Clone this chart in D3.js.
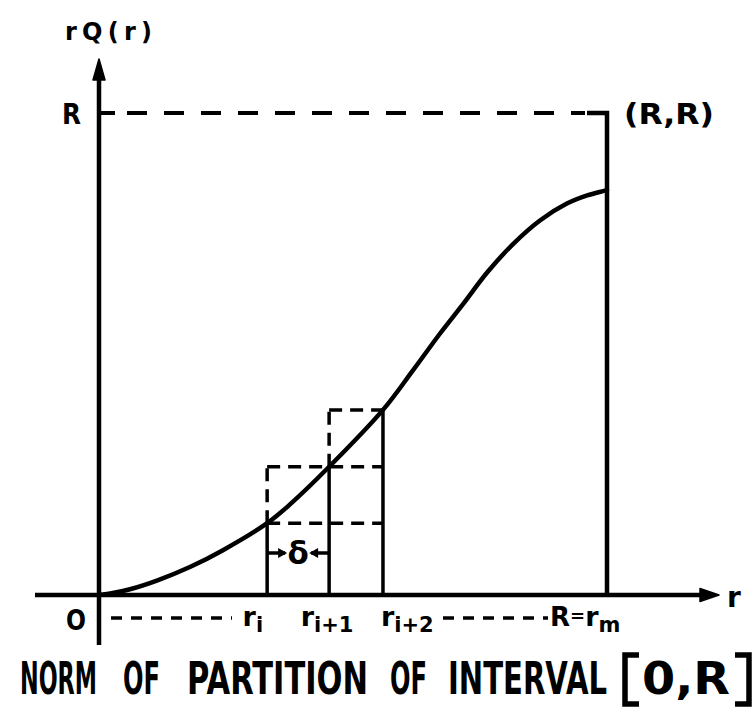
<!DOCTYPE html>
<html><head><meta charset="utf-8">
<script src="https://cdn.jsdelivr.net/npm/d3@7"></script>
<style>
  body { margin: 0; background: #fff; }
  text { font-family: "DejaVu Sans", sans-serif; font-weight: bold; fill: #000; }
</style>
</head><body>
<svg id="chart" width="753" height="714"></svg>
<script>
// Curve r·Q(r), both coordinates as fractions of R
const curveR = [0, 0.022, 0.061, 0.114, 0.179, 0.244, 0.331, 0.376, 0.453, 0.559, 0.618, 0.671, 0.717, 0.764, 0.815, 0.868, 0.921, 0.961, 1.0];
const curveQ = [0, 0.003, 0.012, 0.030, 0.058, 0.093, 0.149, 0.188, 0.266, 0.384, 0.466, 0.542, 0.604, 0.669, 0.728, 0.777, 0.812, 0.829, 0.840];

// Three consecutive partition points and the curve value at each
const partR = [0.331, 0.453, 0.559];
const partQ = [0.149, 0.266, 0.384];
const partLabels = [["r", "i"], ["r", "i+1"], ["r", "i+2"]];

// Axis and corner labels
const yAxisLabel = "rQ(r)";
const xAxisLabel = "r";
const topTick = "R";
const originLabel = "O";
const cornerLabel = "(R,R)";
const endLabel = ["R", "=", "r", "m"];
const deltaLabel = "δ";
const titleWords = ["NORM", "OF", "PARTITION", "OF", "INTERVAL"];
const intervalText = "0,R";

const svg = d3.select("#chart");
const x = d3.scaleLinear().domain([0, 1]).range([99, 607]);
const y = d3.scaleLinear().domain([0, 1]).range([595, 113]);

const g = svg.append("g");

// Bold lettering squeezed horizontally so it spans [x0, x1]
function fitted(parent, str, x0, x1, baseline, size) {
  const holder = parent.append("g");
  const t = holder.append("text").attr("font-size", size).text(str);
  const w = t.node().getComputedTextLength();
  holder.attr("transform", `translate(${x0},${baseline}) scale(${(x1 - x0) / w},1)`);
  return t;
}

// ---- axes ----
const axisW = 4.5;
g.append("line").attr("x1", 35).attr("x2", 705).attr("y1", y(0)).attr("y2", y(0))
  .attr("stroke", "#000").attr("stroke-width", axisW);
g.append("path")
  .attr("d", `M${719},${y(0)} L${700},${y(0) - 6.5} L${700},${y(0) + 6.5} Z`)
  .attr("fill", "#000").attr("stroke", "#000").attr("stroke-width", 1.5).attr("stroke-linejoin", "round");

g.append("line").attr("x1", x(0)).attr("x2", x(0)).attr("y1", 645).attr("y2", 76)
  .attr("stroke", "#000").attr("stroke-width", axisW);
g.append("path")
  .attr("d", `M${x(0)},${59} L${x(0) - 6},${80} L${x(0) + 6},${80} Z`)
  .attr("fill", "#000").attr("stroke", "#000").attr("stroke-width", 1.5).attr("stroke-linejoin", "round");

// ---- bounding square: dashed top at R, solid right side at r = R ----
g.append("line").attr("x1", x(0)).attr("x2", x(0) + 16).attr("y1", y(1)).attr("y2", y(1))
  .attr("stroke", "#000").attr("stroke-width", 4);
g.append("line").attr("x1", x(0) + 28).attr("x2", x(1) - 22).attr("y1", y(1)).attr("y2", y(1))
  .attr("stroke", "#000").attr("stroke-width", 4).attr("stroke-dasharray", "20,17");
g.append("path")
  .attr("d", `M${x(1) - 20},${y(1)} L${x(1)},${y(1)} L${x(1)},${y(0)}`)
  .attr("fill", "none").attr("stroke", "#000").attr("stroke-width", 4.5);

// ---- step rectangles around the partition points ----
const dash = "13,8";
const stepW = 3.5;
// solid ordinates from the axis up to the curve
partR.forEach((r, k) => {
  g.append("line").attr("x1", x(r)).attr("x2", x(r)).attr("y1", y(0)).attr("y2", y(partQ[k]))
    .attr("stroke", "#000").attr("stroke-width", stepW);
});
// dashed horizontals at each curve value
g.append("line").attr("x1", x(partR[0])).attr("x2", x(partR[2])).attr("y1", y(partQ[0])).attr("y2", y(partQ[0]))
  .attr("stroke", "#000").attr("stroke-width", stepW).attr("stroke-dasharray", dash);
g.append("line").attr("x1", x(partR[0])).attr("x2", x(partR[2])).attr("y1", y(partQ[1])).attr("y2", y(partQ[1]))
  .attr("stroke", "#000").attr("stroke-width", stepW).attr("stroke-dasharray", dash);
g.append("line").attr("x1", x(partR[1])).attr("x2", x(partR[2])).attr("y1", y(partQ[2])).attr("y2", y(partQ[2]))
  .attr("stroke", "#000").attr("stroke-width", stepW).attr("stroke-dasharray", dash);
// dashed verticals closing the upper rectangles
g.append("line").attr("x1", x(partR[0])).attr("x2", x(partR[0])).attr("y1", y(partQ[0])).attr("y2", y(partQ[1]))
  .attr("stroke", "#000").attr("stroke-width", stepW).attr("stroke-dasharray", dash);
g.append("line").attr("x1", x(partR[1])).attr("x2", x(partR[1])).attr("y1", y(partQ[1])).attr("y2", y(partQ[2]))
  .attr("stroke", "#000").attr("stroke-width", stepW).attr("stroke-dasharray", dash);

// ---- the curve ----
const line = d3.line().x((d, i) => x(curveR[i])).y((d, i) => y(curveQ[i]))
  .curve(d3.curveCatmullRom.alpha(0.5));
g.append("path").datum(curveR).attr("d", line)
  .attr("fill", "none").attr("stroke", "#000").attr("stroke-width", 4.5).attr("stroke-linecap", "round");

// ---- δ marker between r_i and r_i+1 ----
const dy = 553;
const xa = x(partR[0]), xb = x(partR[1]);
const xm = (xa + xb) / 2;
g.append("line").attr("x1", xa).attr("x2", xm - 13).attr("y1", dy).attr("y2", dy)
  .attr("stroke", "#000").attr("stroke-width", 3.5);
g.append("line").attr("x1", xm + 13).attr("x2", xb).attr("y1", dy).attr("y2", dy)
  .attr("stroke", "#000").attr("stroke-width", 3.5);
g.append("path").attr("d", `M${xm - 11},${dy} L${xm - 20},${dy - 5} L${xm - 20},${dy + 5} Z`).attr("fill", "#000");
g.append("path").attr("d", `M${xm + 11},${dy} L${xm + 20},${dy - 5} L${xm + 20},${dy + 5} Z`).attr("fill", "#000");
g.append("text").attr("x", xm).attr("y", dy + 11).attr("text-anchor", "middle")
  .attr("font-size", 31).text(deltaLabel);

// ---- labels ----
g.append("text").attr("x", 65).attr("y", 40).attr("font-size", 24)
  .attr("textLength", 87).attr("lengthAdjust", "spacing").text(yAxisLabel);
fitted(g, topTick, 62, 81, y(1) + 11, 29);
fitted(g, cornerLabel, 624, 714, y(1) + 11, 28);
g.append("text").attr("x", 727).attr("y", 607).attr("font-size", 28).text(xAxisLabel);
fitted(g, originLabel, 66, 86, 630, 28);

// dashed runs in the label row
g.append("line").attr("x1", 111).attr("x2", 232).attr("y1", 618).attr("y2", 618)
  .attr("stroke", "#000").attr("stroke-width", 3.5).attr("stroke-dasharray", "11,9");
g.append("line").attr("x1", 443).attr("x2", 548).attr("y1", 618).attr("y2", 618)
  .attr("stroke", "#000").attr("stroke-width", 3.5).attr("stroke-dasharray", "11,9");

const anchors = ["end", "middle", "start"];
const shifts = [-4, -2, -2];
partLabels.forEach((lab, k) => {
  const t = g.append("text").attr("x", x(partR[k]) + shifts[k]).attr("y", 626)
    .attr("text-anchor", anchors[k]).attr("font-size", 27);
  t.append("tspan").text(lab[0]);
  t.append("tspan").attr("dy", 6).attr("font-size", 21).text(lab[1]);
});

const e = g.append("text").attr("x", 550).attr("y", 626).attr("font-size", 26);
e.append("tspan").text(endLabel[0]);
e.append("tspan").attr("font-size", 18).attr("dy", -4).text(endLabel[1]);
e.append("tspan").attr("dy", 4).attr("font-size", 27).text(endLabel[2]);
e.append("tspan").attr("dy", 6).attr("font-size", 21).text(endLabel[3]);

// ---- title, word by word ----
const wordSpans = [[20, 97], [123, 160], [187, 368], [390, 427], [448, 607]];
titleWords.forEach((w, k) => fitted(g, w, wordSpans[k][0], wordSpans[k][1], 694, 44));

// interval [0,R] with tall brackets
g.append("path").attr("d", "M639,655 L625,655 L625,704 L639,704")
  .attr("fill", "none").attr("stroke", "#000").attr("stroke-width", 5.5);
g.append("path").attr("d", "M735,655 L749,655 L749,704 L735,704")
  .attr("fill", "none").attr("stroke", "#000").attr("stroke-width", 5.5);
fitted(g, intervalText, 642, 730, 694, 44);
</script>
</body></html>
